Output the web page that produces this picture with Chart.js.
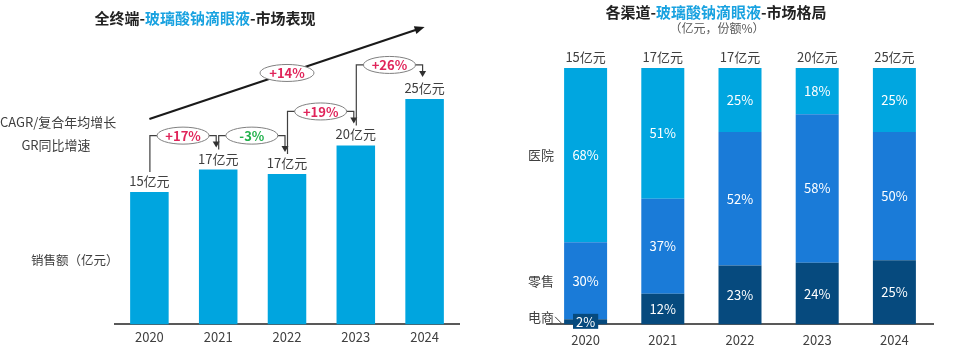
<!DOCTYPE html>
<html><head><meta charset="utf-8">
<script src="https://cdn.jsdelivr.net/npm/chart.js@4"></script>
<style>
body{margin:0;background:#fff;font-family:"Noto Sans CJK SC",sans-serif;}
#wrap{position:relative;width:960px;height:356px;overflow:hidden;background:#fff}
.t{position:absolute;white-space:nowrap;color:#333;line-height:20px}
canvas{position:absolute;top:0}
</style></head><body>
<div id="wrap">
<canvas id="c1" width="480" height="356" style="left:0"></canvas>
<canvas id="c2" width="480" height="356" style="left:480px"></canvas>
<div class="t" style="left:0;width:410px;top:8px;text-align:center;font-size:15px;font-weight:bold;color:#222">全终端-<span style="color:#19A2E0">玻璃酸钠滴眼液</span>-市场表现</div>
<div class="t" style="left:516px;width:400px;top:2px;text-align:center;font-size:15px;font-weight:bold;color:#222">各渠道-<span style="color:#19A2E0">玻璃酸钠滴眼液</span>-市场格局</div>
<div class="t" style="left:617px;width:200px;top:18px;text-align:center;font-size:12px;color:#595959">（亿元，份额%）</div>
<div class="t" style="left:0;top:112px;font-size:13px;color:#404040">CAGR/复合年均增长</div>
<div class="t" style="left:6px;width:100px;top:135px;text-align:center;font-size:13px;color:#404040">GR同比增速</div>
<div class="t" style="left:31px;top:250px;font-size:12.5px;color:#404040">销售额（亿元）</div>
</div>
<script>
// ---- data ----
const years = ['2020','2021','2022','2023','2024'];
const salesValues = [14.8, 17.3, 16.8, 20.0, 25.2];
const growthLabels = ['+17%','-3%','+19%','+26%'];
const cagrLabel = '+14%';
const channelTotals = [15, 17, 17, 20, 25];
const ecommerceShare = [2, 12, 23, 24, 25];
const retailShare = [30, 37, 52, 58, 50];
const hospitalShare = [68, 51, 25, 18, 25];
const channelNames = ['电商', '零售', '医院'];

const FONT = '"Noto Sans CJK SC", sans-serif';

function arrowDown(ctx, x, y){
  ctx.beginPath(); ctx.moveTo(x-3.5, y-6); ctx.lineTo(x+3.5, y-6); ctx.lineTo(x, y); ctx.closePath(); ctx.fill();
}

const leftPlugin = {
  id: 'leftAnno',
  afterDatasetsDraw(chart){
    const ctx = chart.ctx;
    const pts = chart.getDatasetMeta(0).data;
    ctx.save();
    ctx.font = '13px ' + FONT; ctx.fillStyle = '#404040';
    ctx.textAlign = 'center'; ctx.textBaseline = 'middle';
    pts.forEach((b,i)=> ctx.fillText(Math.round(salesValues[i]) + '亿元', b.x, b.y - 11));
    // growth brackets
    for (let i=0;i<growthLabels.length;i++){
      const a = pts[i], n = pts[i+1];
      const level = Math.min(a.y, n.y) - 34;
      const x1 = a.x + 0.5, x2 = n.x - 2;
      ctx.strokeStyle = '#404040'; ctx.lineWidth = 1.2; ctx.fillStyle = '#303030';
      ctx.beginPath(); ctx.moveTo(x1, a.y - 20); ctx.lineTo(x1, level); ctx.lineTo(x2, level); ctx.lineTo(x2, n.y - 27); ctx.stroke();
      arrowDown(ctx, x2, n.y - 22);
      const cx = (x1 + x2)/2;
      ctx.beginPath(); ctx.ellipse(cx, level, 26, 8.5, 0, 0, Math.PI*2);
      ctx.fillStyle = '#fff'; ctx.fill(); ctx.strokeStyle = '#808080'; ctx.lineWidth = 1; ctx.stroke();
      ctx.font = 'bold 13px ' + FONT;
      ctx.fillStyle = growthLabels[i].startsWith('-') ? '#22B14C' : '#E0245A';
      ctx.fillText(growthLabels[i], cx, level + 0.5);
    }
    // CAGR arrow
    const s = pts[0], e = pts[pts.length-1];
    const sx = s.x, sy = s.y - 73, ex = e.x, ey = e.y - 72;
    const ang = Math.atan2(ey - sy, ex - sx);
    ctx.strokeStyle = '#1a1a1a'; ctx.lineWidth = 2.2; ctx.fillStyle = '#1a1a1a';
    ctx.beginPath(); ctx.moveTo(sx, sy); ctx.lineTo(ex - 8*Math.cos(ang), ey - 8*Math.sin(ang)); ctx.stroke();
    ctx.beginPath(); ctx.moveTo(ex, ey);
    ctx.lineTo(ex - 10*Math.cos(ang) + 4*Math.sin(ang), ey - 10*Math.sin(ang) - 4*Math.cos(ang));
    ctx.lineTo(ex - 10*Math.cos(ang) - 4*Math.sin(ang), ey - 10*Math.sin(ang) + 4*Math.cos(ang));
    ctx.closePath(); ctx.fill();
    const mx = (sx+ex)/2, my = (sy+ey)/2;
    ctx.beginPath(); ctx.ellipse(mx, my, 27, 8.5, 0, 0, Math.PI*2);
    ctx.fillStyle = '#fff'; ctx.fill(); ctx.strokeStyle = '#808080'; ctx.lineWidth = 1; ctx.stroke();
    ctx.font = 'bold 13px ' + FONT; ctx.fillStyle = '#E0245A';
    ctx.fillText(cagrLabel, mx, my + 0.5);
    ctx.restore();
  }
};

new Chart(document.getElementById('c1'), {
  type: 'bar',
  data: { labels: years, datasets: [{ data: salesValues, backgroundColor: '#00A5DF', borderWidth: 0,
    categoryPercentage: 1, barPercentage: 0.56 }] },
  options: {
    responsive: false, animation: false,
    layout: { padding: { left: 115, right: 21, top: 56, bottom: 6 } },
    plugins: { legend: { display: false }, tooltip: { enabled: false } },
    scales: {
      x: { grid: { display: false, drawTicks: false }, border: { display: true, color: '#595959', width: 2 },
           ticks: { color: '#404040', padding: 5, font: { size: 13, family: FONT } } },
      y: { display: false, min: 0, max: 30 }
    }
  },
  plugins: [leftPlugin]
});

const rightPlugin = {
  id: 'rightAnno',
  afterDatasetsDraw(chart){
    const ctx = chart.ctx;
    ctx.save();
    ctx.textAlign = 'center'; ctx.textBaseline = 'middle';
    chart.data.datasets.forEach((ds, di)=>{
      const meta = chart.getDatasetMeta(di);
      meta.data.forEach((b, i)=>{
        const h = b.base - b.y;
        const cy = (b.y + b.base)/2;
        const txt = ds.data[i] + '%';
        ctx.font = '13px ' + FONT;
        if (h < 14) {
          const w = ctx.measureText(txt).width + 6;
          ctx.fillStyle = ds.backgroundColor;
          ctx.fillRect(b.x - w/2, cy - 8, w, 15);
          ctx.fillStyle = '#fff'; ctx.fillText(txt, b.x, cy);
        } else {
          ctx.fillStyle = '#fff'; ctx.fillText(txt, b.x, cy);
        }
      });
    });
    // totals
    const top = chart.getDatasetMeta(chart.data.datasets.length-1).data;
    ctx.font = '13px ' + FONT; ctx.fillStyle = '#404040';
    top.forEach((b,i)=> ctx.fillText(channelTotals[i] + '亿元', b.x, b.y - 11));
    // channel names on left, aligned to first bar segments
    ctx.textAlign = 'right'; ctx.font = '13px ' + FONT; ctx.fillStyle = '#404040';
    chart.data.datasets.forEach((ds, di)=>{
      const b = chart.getDatasetMeta(di).data[0];
      const rx = b.x - b.width/2 - 10;
      let cy = (b.y + b.base)/2;
      if (b.base - b.y < 14) {
        cy -= 5;
        ctx.strokeStyle = '#404040'; ctx.lineWidth = 1;
        ctx.beginPath(); ctx.moveTo(rx + 1, cy); ctx.lineTo(rx + 7, cy + 6); ctx.stroke();
      }
      ctx.fillText(ds.label, rx, cy);
    });
    ctx.restore();
  }
};

new Chart(document.getElementById('c2'), {
  type: 'bar',
  data: { labels: years, datasets: [
    { label: channelNames[0], data: ecommerceShare, backgroundColor: '#064A7E' },
    { label: channelNames[1], data: retailShare, backgroundColor: '#1A7BD8' },
    { label: channelNames[2], data: hospitalShare, backgroundColor: '#00A6E0' }
  ].map(d => Object.assign(d, { borderWidth: 0, categoryPercentage: 1, barPercentage: 0.557 })) },
  options: {
    responsive: false, animation: false,
    layout: { padding: { left: 67, right: 27, top: 68, bottom: 0 } },
    plugins: { legend: { display: false }, tooltip: { enabled: false } },
    scales: {
      x: { stacked: true, grid: { display: false, drawTicks: false }, border: { display: true, color: '#595959', width: 2 },
           ticks: { color: '#404040', padding: 8, font: { size: 13, family: FONT } } },
      y: { stacked: true, display: false, min: 0, max: 100 }
    }
  },
  plugins: [rightPlugin]
});
</script>
</body></html>
